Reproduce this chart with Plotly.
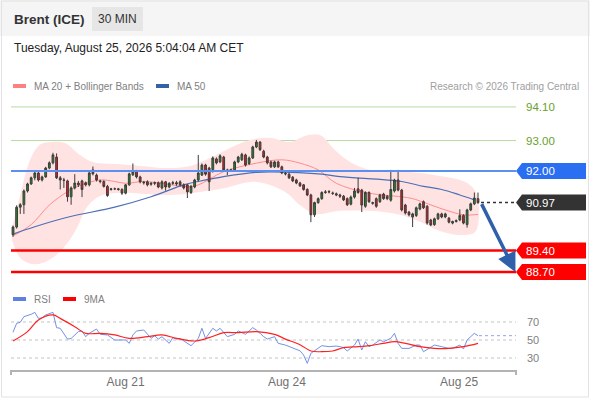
import plotly.graph_objects as go

# ---- candle data (30 min bars, bar index = position) ----
opens = [
    89.92, 90.17, 90.82, 90.90, 91.35, 91.58, 91.78, 91.94, 91.71, 91.81,
    92.10, 92.27, 92.46, 91.78, 91.71, 91.68, 91.16, 91.45, 91.61, 91.68,
    91.62, 91.55, 92.04, 91.87, 91.68, 91.66, 91.50, 91.40, 91.42, 91.42,
    91.40, 91.28, 91.55, 91.88, 92.00, 91.81, 91.64, 91.65, 91.57, 91.60,
    91.62, 91.45, 91.65, 91.48, 91.60, 91.62, 91.65, 91.55, 91.55, 91.30,
    91.48, 91.71, 91.87, 92.20, 92.10, 92.05, 92.40, 92.30, 92.46, 92.04,
    92.02, 92.04, 92.30, 92.37, 92.53, 92.25, 92.43, 92.79, 92.95, 92.65,
    92.46, 92.30, 92.14, 92.30, 92.14, 91.93, 91.90, 91.80, 91.71, 91.61,
    91.55, 91.40, 91.22, 90.57, 90.97, 91.10, 91.30, 91.33, 91.27, 91.26,
    91.22, 91.18, 91.10, 90.92, 91.15, 91.42, 91.38, 90.85, 91.30, 90.97,
    91.10, 91.00, 91.25, 91.18, 91.05, 91.35, 91.71, 91.38, 90.89, 90.66,
    90.50, 90.55, 90.76, 91.00, 90.85, 90.40, 90.25, 90.44, 90.60, 90.50,
    90.46, 90.30, 90.35, 90.40, 90.55, 90.25, 90.73, 90.93, 91.10,
]
highs = [
    90.22, 90.88, 90.95, 91.40, 91.62, 91.82, 92.00, 92.00, 91.85, 92.14,
    92.32, 92.60, 92.58, 91.84, 91.78, 91.72, 91.50, 91.90, 91.68, 91.72,
    91.66, 91.98, 92.15, 91.92, 91.72, 91.70, 91.55, 91.45, 91.46, 91.45,
    91.44, 91.58, 91.95, 92.25, 92.04, 91.85, 91.68, 91.70, 91.64, 91.66,
    91.66, 91.70, 91.68, 91.64, 91.68, 91.68, 91.70, 91.60, 91.58, 91.55,
    91.75, 92.53, 92.25, 92.24, 92.14, 92.48, 92.45, 92.55, 92.50, 92.08,
    92.08, 92.34, 92.50, 92.60, 92.57, 92.48, 92.83, 93.02, 92.98, 92.70,
    92.50, 92.34, 92.34, 92.34, 92.18, 91.97, 91.94, 91.84, 91.75, 91.65,
    91.58, 91.44, 91.26, 91.00, 91.14, 91.34, 91.38, 91.38, 91.33, 91.30,
    91.26, 91.22, 91.14, 91.20, 91.45, 91.78, 91.42, 91.34, 91.34, 91.00,
    91.14, 91.26, 91.29, 91.22, 92.04, 91.75, 92.04, 91.42, 90.93, 90.70,
    90.64, 90.84, 90.97, 91.04, 90.89, 90.44, 90.48, 90.64, 90.64, 90.64,
    90.50, 90.38, 90.42, 90.75, 90.59, 90.77, 90.97, 91.30, 91.30,
]
lows = [
    89.85, 90.12, 90.60, 90.60, 91.30, 91.55, 91.70, 91.66, 91.66, 91.78,
    92.06, 92.22, 91.74, 91.40, 91.45, 91.00, 90.90, 91.40, 91.48, 91.15,
    91.50, 91.50, 91.86, 91.66, 91.60, 91.46, 91.16, 91.36, 91.38, 91.36,
    91.22, 91.24, 91.52, 91.84, 91.76, 91.60, 91.56, 91.50, 91.52, 91.54,
    91.44, 91.40, 91.36, 91.44, 91.55, 91.52, 91.50, 91.40, 91.12, 91.25,
    91.44, 91.66, 91.84, 91.85, 91.35, 91.95, 92.22, 92.26, 92.00, 91.87,
    91.98, 92.00, 92.26, 92.33, 92.15, 92.20, 92.40, 92.75, 92.66, 92.42,
    92.22, 92.10, 92.10, 92.10, 91.90, 91.86, 91.74, 91.64, 91.57, 91.48,
    91.36, 91.18, 90.33, 90.50, 90.93, 91.06, 91.26, 91.27, 91.22, 91.18,
    91.12, 91.02, 90.86, 90.88, 91.10, 91.26, 90.66, 90.80, 90.96, 90.90,
    90.80, 90.96, 91.06, 91.05, 91.00, 91.30, 91.34, 90.68, 90.58, 90.52,
    90.17, 90.50, 90.72, 90.76, 90.25, 90.20, 90.21, 90.40, 90.46, 90.46,
    90.29, 90.26, 90.32, 90.36, 90.26, 90.15, 90.69, 90.89, 90.93,
]
closes = [
    90.17, 90.82, 90.90, 91.35, 91.58, 91.78, 91.94, 91.71, 91.81, 92.10,
    92.27, 92.53, 91.78, 91.71, 91.70, 91.16, 91.45, 91.61, 91.55, 91.40,
    91.55, 91.94, 91.91, 91.71, 91.66, 91.50, 91.20, 91.42, 91.42, 91.40,
    91.28, 91.55, 91.91, 91.98, 91.81, 91.65, 91.62, 91.55, 91.60, 91.62,
    91.48, 91.65, 91.48, 91.60, 91.62, 91.58, 91.55, 91.45, 91.32, 91.50,
    91.71, 91.94, 92.20, 91.90, 91.65, 92.43, 92.27, 92.50, 92.04, 92.02,
    92.04, 92.30, 92.46, 92.55, 92.20, 92.43, 92.79, 92.95, 92.70, 92.46,
    92.27, 92.14, 92.30, 92.14, 91.94, 91.91, 91.78, 91.68, 91.61, 91.52,
    91.40, 91.22, 90.57, 90.97, 91.10, 91.30, 91.32, 91.32, 91.28, 91.22,
    91.18, 91.06, 90.90, 91.15, 91.35, 91.30, 90.89, 91.30, 91.00, 90.95,
    90.85, 91.22, 91.10, 91.10, 91.40, 91.71, 91.38, 90.73, 90.63, 90.57,
    90.60, 90.80, 90.93, 90.80, 90.30, 90.24, 90.44, 90.60, 90.50, 90.60,
    90.33, 90.35, 90.38, 90.55, 90.30, 90.73, 90.93, 91.12, 90.97,
]

# moving averages (read at sparse bars)
ma20_bar = [0, 5, 10, 15, 18, 24, 28, 31, 36, 42, 48, 51, 58, 67, 74, 79, 84, 89, 98, 107, 110, 113, 119, 124, 128]
ma20 = [89.88, 90.25, 90.89, 91.33, 91.51, 91.71, 91.66, 91.60, 91.66, 91.58, 91.49, 91.55, 91.98,
        92.26, 92.37, 92.26, 92.04, 91.60, 91.28, 91.16, 91.10, 90.98, 90.73, 90.57, 90.58]
ma50_bar = [0, 6, 15, 28, 38, 47, 51, 58, 67, 76, 85, 90, 107, 113, 118, 123, 127]
ma50 = [89.94, 90.18, 90.49, 90.82, 91.16, 91.55, 91.66, 91.82, 91.96, 91.96, 91.90, 91.82,
        91.66, 91.50, 91.40, 91.22, 91.06]

# bollinger envelope
bb_up_bar = [-0.3, 2, 4.7, 7.4, 10.7, 14.3, 18.4, 22, 28.6, 35, 42.4, 48.7, 54.2, 59.7, 65.2, 70.7,
             76.2, 80.4, 84.5, 88.6, 92.8, 98.3, 103.8, 109.3, 117.5, 124.4, 127.4, 128.3]
bb_up = [90.14, 91.22, 92.37, 92.86, 92.95, 92.92, 92.53, 92.30, 92.23, 92.17, 92.10, 92.17, 92.43,
         92.76, 93.02, 93.09, 92.95, 93.15, 93.18, 92.69, 92.30, 92.04, 91.97, 91.97, 91.84, 91.65,
         91.32, 90.73]
bb_lo_bar = [-0.3, 2, 5.2, 8.8, 12.9, 17, 20.6, 24, 29.5, 42.4, 51.5, 58.4, 66.6, 74.9, 79, 83.1,
             90, 98.3, 106.5, 112, 117.5, 123, 127.2]
bb_lo = [89.75, 89.16, 88.96, 89.03, 89.36, 90.01, 90.86, 91.19, 91.29, 91.22, 91.32, 91.45, 91.65,
         91.32, 90.89, 90.60, 90.70, 90.70, 90.57, 90.34, 90.04, 89.91, 90.01]

# RSI panel
rsi_bar = [0, 1, 2, 3, 5, 6, 7, 8, 9, 11, 12, 13, 15, 16, 18, 19, 20, 21, 23, 24, 26, 28, 31, 32,
           33, 34, 36, 38, 39, 40, 41, 43, 44, 45, 46, 49, 51, 52, 53, 55, 56, 57, 59, 61, 62, 64,
           66, 67, 69, 70, 72, 73, 75, 76, 77, 79, 80, 81, 82, 84, 85, 87, 89, 90, 91, 92, 94, 95,
           96, 97, 98, 99, 101, 102, 103, 104, 105, 106, 107, 109, 111, 112, 113, 115, 116, 118,
           120, 121, 123, 124, 125, 126, 127, 128]
rsi = [58.5, 68.5, 69.6, 75.9, 78.5, 80.7, 74.0, 74.6, 77.8, 80.7, 63.7, 63.0, 51.0, 51.7, 59.3,
       60.0, 53.7, 57.4, 62.2, 56.3, 55.6, 50.0, 50.0, 46.3, 55.6, 60.0, 61.1, 51.9, 54.8, 51.0,
       53.7, 46.3, 52.6, 51.0, 51.7, 43.7, 51.7, 63.0, 51.7, 63.0, 60.0, 63.0, 53.7, 56.3, 60.0,
       56.3, 63.7, 61.1, 53.7, 51.0, 53.7, 46.3, 44.4, 42.6, 40.7, 38.0, 33.3, 24.1, 35.2, 41.5,
       43.7, 42.6, 43.3, 42.6, 41.5, 37.8, 44.4, 51.0, 38.9, 48.1, 42.6, 44.4, 50.0, 48.1, 50.0,
       51.9, 57.4, 46.3, 40.7, 40.7, 44.4, 44.4, 37.0, 42.6, 44.4, 42.6, 40.7, 40.7, 44.4, 40.0,
       50.0, 53.7, 57.4, 54.8]
ma9_bar = [0, 4, 7, 11, 13, 17, 20, 24, 28, 32, 37, 41, 45, 50, 54, 58, 62, 67, 72, 75, 79, 82, 85,
           88, 91, 95, 98, 102, 105, 108, 112, 116, 120, 124, 128]
ma9 = [48.9, 59.3, 72.2, 77.8, 74.0, 64.8, 57.4, 57.4, 55.6, 51.9, 53.7, 55.6, 51.9, 48.9, 52.6,
       58.1, 58.1, 59.3, 56.3, 51.0, 44.8, 37.8, 37.0, 37.8, 41.5, 42.6, 43.7, 46.3, 48.1, 46.3,
       42.6, 40.7, 40.7, 42.6, 46.3]

tick_bars = [31, 75.4, 122.8]
tick_labels = ["Aug 21", "Aug 24", "Aug 25"]

target_lines = [94.10, 93.00]
pivot = 92.00
last_price = 90.97
support_lines = [89.40, 88.70]
arrow_to = (138.3, 88.70)

# ---- pixel helpers for layout (plot area 11..516 x 95..370) ----
L, R, T, B = 11, 516, 95, 370


def fx(px):
    return (px - L) / (R - L)


def fy(py):
    return (B - py) / (B - T)


FONT = "Liberation Sans, Arial, sans-serif"
fig = go.Figure()

# bollinger band
fig.add_trace(go.Scatter(
    x=bb_up_bar + bb_lo_bar[::-1], y=bb_up + bb_lo[::-1],
    fill='toself', fillcolor='#ffe3e3', mode='lines',
    line=dict(width=0, shape='spline', smoothing=1.0),
    hoverinfo='skip', showlegend=False))

fig.add_trace(go.Scatter(x=ma20_bar, y=ma20, mode='lines',
                         line=dict(color='#ff8c8c', width=1, shape='spline'), showlegend=False))
fig.add_trace(go.Scatter(x=ma50_bar, y=ma50, mode='lines',
                         line=dict(color='#4a70b5', width=1.2, shape='spline'), showlegend=False))

# candles on an overlay pair of axes so they sit above the band fill
fig.add_trace(go.Candlestick(
    x=list(range(len(closes))), open=opens, high=highs, low=lows, close=closes,
    xaxis='x3', yaxis='y3',
    increasing=dict(line=dict(color='#3c3c3c', width=1), fillcolor='#1f8a1f'),
    decreasing=dict(line=dict(color='#3c3c3c', width=1), fillcolor='#e8191a'),
    whiskerwidth=0, showlegend=False))

# RSI panel
fig.add_trace(go.Scatter(x=rsi_bar, y=rsi, mode='lines', xaxis='x2', yaxis='y2',
                         line=dict(color='#7391e6', width=1), showlegend=False))
fig.add_trace(go.Scatter(x=ma9_bar, y=ma9, mode='lines', xaxis='x2', yaxis='y2',
                         line=dict(color='#ff2020', width=1.2, shape='spline'), showlegend=False))

shapes = []
ann = []

# header band
shapes.append(dict(type='rect', xref='paper', yref='paper', x0=fx(0), x1=fx(590), y0=fy(0), y1=fy(36),
                   fillcolor='#f5f5f5', line=dict(width=0), layer='below'))
shapes.append(dict(type='rect', xref='paper', yref='paper', x0=fx(92), x1=fx(143), y0=fy(7), y1=fy(31),
                   fillcolor='#e6e6e6', line=dict(width=0)))
shapes.append(dict(type='rect', xref='paper', yref='paper', x0=fx(1.5), x1=fx(588.5), y0=fy(1), y1=fy(397),
                   fillcolor='rgba(0,0,0,0)', line=dict(color='#e2e2e2', width=1)))
ann.append(dict(x=fx(12), y=fy(19), text='<b>Brent (ICE)</b>', font=dict(size=13.5, color='#333')))
ann.append(dict(x=fx(117.5), y=fy(19), text='30 MIN', font=dict(size=12, color='#333'), xanchor='center'))
ann.append(dict(x=fx(12), y=fy(48), text='Tuesday, August 25, 2026 5:04:04 AM CET',
                font=dict(size=12, color='#222')))

# legends
shapes.append(dict(type='line', xref='paper', yref='paper', x0=fx(13), x1=fx(26), y0=fy(86), y1=fy(86),
                   line=dict(color='#ff8080', width=4)))
ann.append(dict(x=fx(32), y=fy(86), text='MA 20 + Bollinger Bands', font=dict(size=10, color='#808080')))
shapes.append(dict(type='line', xref='paper', yref='paper', x0=fx(156), x1=fx(169), y0=fy(86), y1=fy(86),
                   line=dict(color='#3561a8', width=4)))
ann.append(dict(x=fx(175), y=fy(86), text='MA 50', font=dict(size=10, color='#808080')))
ann.append(dict(x=fx(581), y=fy(86), text='Research © 2026 Trading Central', xanchor='right',
                font=dict(size=10, color='#a0a0a0')))
shapes.append(dict(type='line', xref='paper', yref='paper', x0=fx(13), x1=fx(26), y0=fy(299), y1=fy(299),
                   line=dict(color='#6080e0', width=4)))
ann.append(dict(x=fx(32), y=fy(299), text='RSI', font=dict(size=10, color='#808080')))
shapes.append(dict(type='line', xref='paper', yref='paper', x0=fx(63), x1=fx(76), y0=fy(299), y1=fy(299),
                   line=dict(color='#ff0000', width=4)))
ann.append(dict(x=fx(82), y=fy(299), text='9MA', font=dict(size=10, color='#808080')))

# target lines
for lv in target_lines:
    shapes.append(dict(type='line', xref='paper', yref='y', x0=0, x1=1, y0=lv, y1=lv,
                       line=dict(color='#b9d9a3', width=1), layer='below'))
    ann.append(dict(x=fx(524), y=lv, yref='y', text=f'{lv:.2f}', font=dict(size=11.5, color='#66a22a')))

shapes.append(dict(type='line', xref='paper', yref='y', x0=0, x1=1, y0=pivot, y1=pivot,
                   line=dict(color='#5b8ff0', width=2)))
for lv in support_lines:
    shapes.append(dict(type='line', xref='paper', yref='y', x0=0, x1=1, y0=lv, y1=lv,
                       line=dict(color='#ff0000', width=2.5)))

shapes.append(dict(type='line', xref='paper', yref='y', x0=fx(481), x1=1, y0=last_price, y1=last_price,
                   line=dict(color='#333', width=1.5, dash='dot')))

# price tags on the right
tag_path = 'M0,0 L6,8 L70,8 L70,-8 L6,-8 Z'
for lv, col in [(pivot, '#2a6ef2'), (last_price, '#333333'),
                (support_lines[0], '#ff0000'), (support_lines[1], '#ff0000')]:
    shapes.append(dict(type='path', xref='paper', yref='y', xsizemode='pixel', ysizemode='pixel',
                       xanchor=1, yanchor=lv, path=tag_path, fillcolor=col, line=dict(width=0)))
    ann.append(dict(x=fx(524), y=lv, yref='y', text=f'{lv:.2f}',
                    font=dict(size=11.5, color='white')))

# RSI grid
for lv in [70, 50, 30]:
    shapes.append(dict(type='line', xref='paper', yref='y2', x0=0, x1=1, y0=lv, y1=lv,
                       line=dict(color='#c4c4c4', width=1, dash='dot'), layer='below'))
    ann.append(dict(x=fx(525), y=lv, yref='y2', text=str(lv), font=dict(size=11, color='#808080')))
shapes.append(dict(type='line', xref='paper', yref='y2', x0=fx(479), x1=1,
                   y0=rsi[-1], y1=rsi[-1], line=dict(color='#8ea6ea', width=1, dash='dot')))

# axis end ticks
for px in (11, 516):
    shapes.append(dict(type='line', xref='paper', yref='paper', x0=fx(px), x1=fx(px), y0=fy(370), y1=fy(375),
                       line=dict(color='#b3b3b3', width=2)))

# forecast arrow
ann.append(dict(x=arrow_to[0], y=arrow_to[1], xref='x', yref='y', ax=len(closes) - 0.2, ay=last_price,
                axref='x', ayref='y', showarrow=True, arrowhead=2, arrowsize=1.1, arrowwidth=3.5,
                arrowcolor='#2f60a9', text=''))

for a in ann:
    a.setdefault('xref', 'paper')
    a.setdefault('yref', 'paper')
    a.setdefault('showarrow', False)
    a.setdefault('xanchor', 'left')
    a.setdefault('yanchor', 'middle')

xr = [-0.55, 138.46]
yr = [88.34, 94.49]
fig.update_layout(
    width=590, height=400,
    margin=dict(l=L, r=590 - R, t=T, b=400 - B),
    paper_bgcolor='white', plot_bgcolor='white',
    font=dict(family=FONT),
    showlegend=False,
    xaxis=dict(domain=[0, 1], range=xr, visible=False, anchor='y'),
    yaxis=dict(domain=[fy(283), 1], range=yr, visible=False),
    xaxis3=dict(range=xr, visible=False, overlaying='x', anchor='y3', rangeslider=dict(visible=False)),
    yaxis3=dict(range=yr, visible=False, overlaying='y', anchor='x3'),
    xaxis2=dict(domain=[0, 1], range=xr, anchor='y2', showgrid=False, zeroline=False,
                showline=True, linecolor='#b3b3b3', linewidth=2, ticks='',
                tickvals=tick_bars, ticktext=tick_labels, tickfont=dict(size=12, color='#707070')),
    yaxis2=dict(domain=[0, fy(310)], range=[16.7, 83.3], visible=False),
    shapes=shapes, annotations=ann,
)

fig.write_html("out.html", config={'displayModeBar': False},
               post_script="document.body.style.margin='0px';")
